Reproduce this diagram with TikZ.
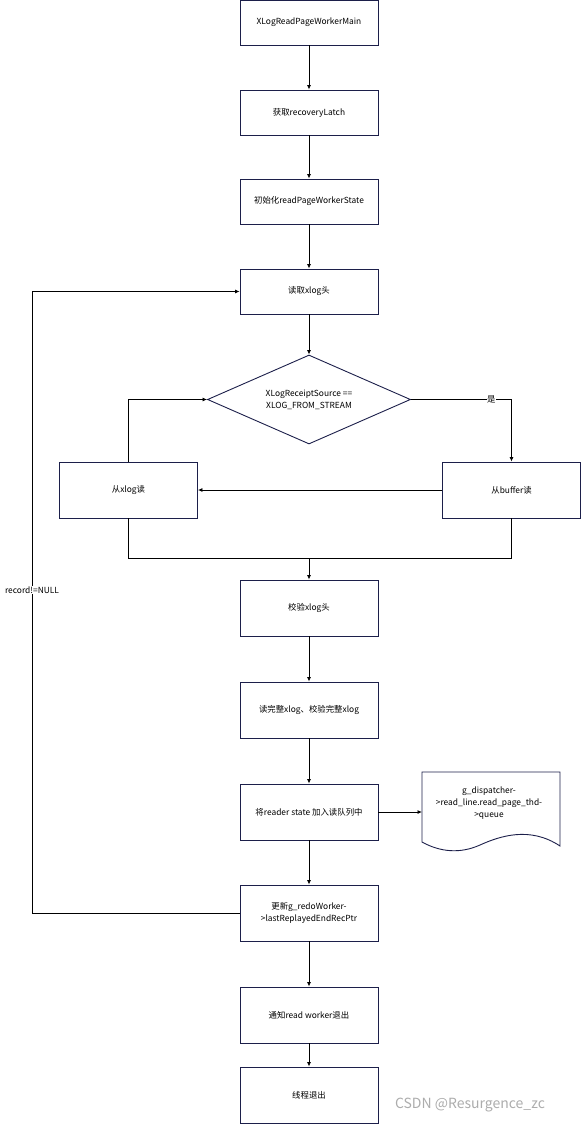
\documentclass[tikz,border=0pt]{standalone}
\usepackage{fontspec}
\setmainfont{Noto Sans CJK SC}
\usetikzlibrary{arrows.meta,shapes.geometric}
\definecolor{navy}{HTML}{1C1F4A}
\begin{document}
\begin{tikzpicture}[x=1pt,y=-1pt,
  every node/.style={font=\fontsize{8.4}{12}\selectfont, text=black},
  box/.style={draw=navy, line width=0.9pt, minimum width=138pt, minimum height=45pt, inner sep=1pt, align=center},
  wbox/.style={box, minimum height=56pt},
  dec/.style={draw=navy, line width=0.9pt, diamond, aspect=2.28, minimum width=203pt, minimum height=89pt, inner sep=0pt, align=center},
  conn/.style={draw=black, line width=0.8pt, -{Latex[length=4.5pt,width=4pt]}},
  line/.style={draw=black, line width=0.8pt}]
\useasboundingbox (0,0) rectangle (582,1124);
\node[box] (a) at (309,22.5) {XLogReadPageWorkerMain};
\node[box] (b) at (309,112.5) {获取recoveryLatch};
\node[box] (c) at (309,201.5) {初始化readPageWorkerState};
\node[box] (d) at (309,291.5) {读取xlog头};
\node[dec] (e) at (309,399.5) {XLogReceiptSource ==\\XLOG\_FROM\_STREAM};
\node[wbox] (f) at (128.5,490) {从xlog读};
\node[wbox] (g) at (511.5,490) {从buffer读};
\node[wbox] (h) at (309,608) {校验xlog头};
\node[wbox] (i) at (309,710) {读完整xlog、校验完整xlog};
\node[wbox] (j) at (309,812) {将reader state 加入读队列中};
\node[wbox] (k) at (309,913) {更新g\_redoWorker-\\>lastReplayedEndRecPtr};
\node[wbox] (l) at (309,1015) {通知read worker退出};
\node[wbox] (m) at (309,1095) {线程退出};
% document shape
\draw[navy, line width=0.9pt] (422,772) -- (560,772) -- (560,846)
  .. controls (530,826) and (500,836) .. (480,845)
  .. controls (460,854) and (440,852) .. (422,842) -- cycle;
\node[align=center] (q) at (489,803) {g\_dispatcher-\\>read\_line.read\_page\_thd-\\>queue};
\coordinate (qin) at (422,812);
% connectors
\draw[conn] (a) -- (b);
\draw[conn] (b) -- (c);
\draw[conn] (c) -- (d);
\draw[conn] (d) -- (e);
\draw[conn] (e.east) -| node[pos=0.4, fill=white, inner sep=0.3pt]{是} (g.north);
\draw[conn] (g.west) -- (f.east);
\draw[conn] (f.north) |- (e.west);
\coordinate (mg) at (309,558);
\draw[line] (f.south) |- (mg);
\draw[line] (g.south) |- (mg);
\draw[conn] (mg) -- (h.north);
\draw[conn] (h) -- (i);
\draw[conn] (i) -- (j);
\draw[conn] (j.east) -- (qin);
\draw[conn] (j) -- (k);
\draw[conn] (k) -- (l);
\draw[conn] (l) -- (m);
\coordinate (lp1) at (32,913);
\coordinate (lp2) at (32,291.5);
\draw[conn] (k.west) -- (lp1) -- node[pos=0.52, fill=white, inner sep=0.3pt]{record!=NULL} (lp2) -- (d.west);
\node[text=gray!65, font=\fontsize{14}{16}\selectfont] (wm) at (470,1105) {CSDN @Resurgence\_zc};
\end{tikzpicture}
\end{document}
